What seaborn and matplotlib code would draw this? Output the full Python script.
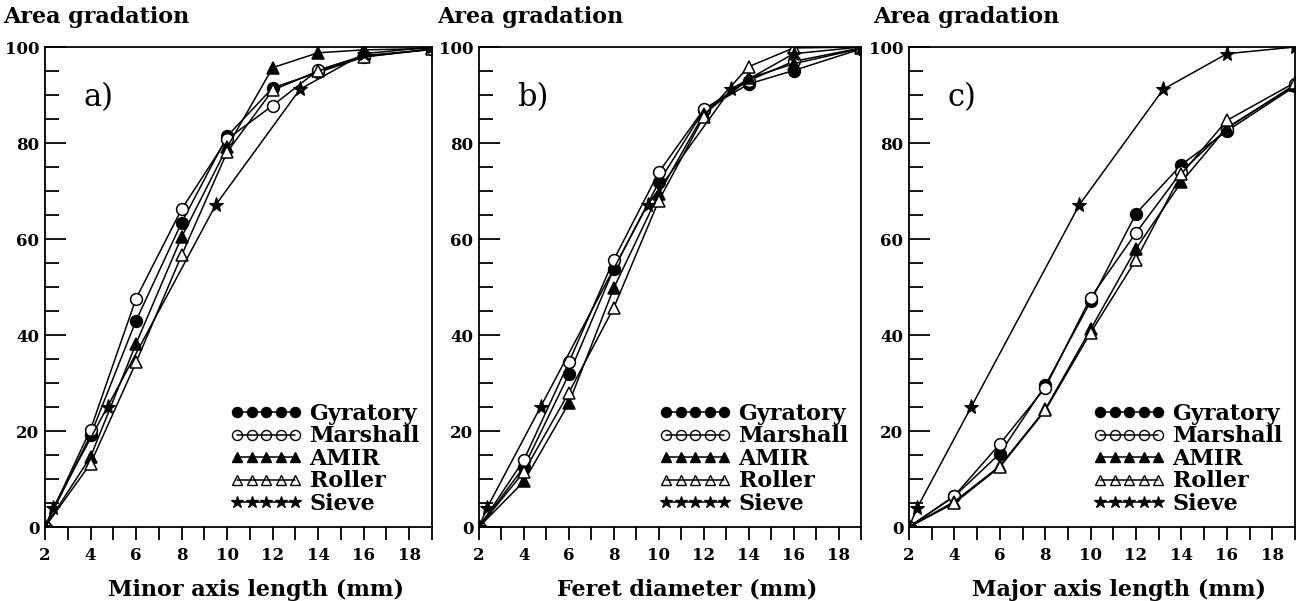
import numpy as np
import pandas as pd
import matplotlib
matplotlib.use('Agg')
import matplotlib.pyplot as plt
import seaborn as sns
from matplotlib.lines import Line2D
from matplotlib.ticker import MultipleLocator

sns.set_style('ticks')
plt.rcParams['font.family'] = ['DejaVu Serif']
plt.rcParams['text.color'] = 'k'
plt.rcParams['axes.labelcolor'] = 'k'
plt.rcParams['xtick.color'] = 'k'
plt.rcParams['ytick.color'] = 'k'

# sizes (mm) where the compaction curves have markers
size_x = [2, 4, 6, 8, 10, 12, 14, 16, 19]

minor_gyratory = [0, 19.1, 43.0, 63.4, 81.4, 91.5, 94.7, 97.9, 99.6]
minor_marshall = [0, 20.3, 47.6, 66.2, 80.8, 87.8, 95.2, 98.2, 99.5]
minor_amir = [0, 14.6, 38.2, 60.4, 79.1, 95.7, 98.8, 99.4, 99.7]
minor_roller = [0, 13.2, 34.3, 56.6, 78.1, 91.0, 95.0, 98.0, 99.5]

feret_gyratory = [0, 12.5, 31.8, 53.8, 71.8, 86.8, 92.3, 95.1, 99.6]
feret_marshall = [0, 14.0, 34.3, 55.7, 73.9, 87.0, 93.0, 97.0, 99.8]
feret_amir = [0, 9.5, 25.8, 49.8, 69.4, 86.0, 93.5, 96.5, 99.7]
feret_roller = [0, 11.5, 28.0, 45.7, 68.0, 85.5, 95.9, 99.8, 100]

major_gyratory = [0, 6.4, 15.3, 29.5, 47.0, 65.3, 75.5, 82.5, 91.8]
major_marshall = [0, 6.5, 17.3, 29.0, 47.8, 61.3, 74.0, 83.0, 92.2]
major_amir = [0, 5.3, 12.7, 24.5, 41.2, 58.0, 71.9, 83.2, 92.0]
major_roller = [0, 5.0, 12.5, 24.3, 40.5, 55.7, 73.6, 84.7, 92.6]

# sieve gradation, same in every panel
sieve_x = [2, 2.36, 4.75, 9.5, 13.2, 16, 19]
sieve_y = [0, 4.0, 25.1, 67.1, 91.2, 98.6, 100]

labels = ['Gyratory', 'Marshall', 'AMIR', 'Roller', 'Sieve']
x_titles = ['Minor axis length (mm)', 'Feret diameter (mm)', 'Major axis length (mm)']
panel_tags = ['a)', 'b)', 'c)']
panels = [
    [minor_gyratory, minor_marshall, minor_amir, minor_roller],
    [feret_gyratory, feret_marshall, feret_amir, feret_roller],
    [major_gyratory, major_marshall, major_amir, major_roller],
]

styles = {
    'Gyratory': dict(marker='o', mfc='k', ms=8.5),
    'Marshall': dict(marker='o', mfc='white', ms=8.5),
    'AMIR': dict(marker='^', mfc='k', ms=8.5),
    'Roller': dict(marker='^', mfc='white', ms=8.5),
    'Sieve': dict(marker='*', mfc='k', ms=11),
}

fig = plt.figure(figsize=(13.08, 6.01), dpi=100)
lefts = [45, 479, 909]
widths = [387, 382, 386]
ylab_x = [-0.108, -0.11, -0.094]

for i in range(3):
    ax = fig.add_axes([lefts[i] / 1308, 74 / 601, widths[i] / 1308, 480 / 601])
    for name, vals in zip(labels[:4], panels[i]):
        st = styles[name]
        sns.lineplot(x=size_x, y=vals, ax=ax, color='k', lw=1.1, marker=st['marker'],
                     mfc=st['mfc'], mec='k', mew=1.1, ms=st['ms'],
                     sort=False, estimator=None, legend=False)
    st = styles['Sieve']
    sns.lineplot(x=sieve_x, y=sieve_y, ax=ax, color='k', lw=1.1, marker=st['marker'],
                 mfc=st['mfc'], mec='k', mew=0.8, ms=st['ms'],
                 sort=False, estimator=None, legend=False)

    ax.set_xlim(2, 19)
    ax.set_ylim(0, 100)
    for s in ax.spines.values():
        s.set_linewidth(1.3)
        s.set_color('k')
    ax.xaxis.set_major_locator(MultipleLocator(2))
    ax.xaxis.set_minor_locator(MultipleLocator(1))
    ax.yaxis.set_major_locator(MultipleLocator(20))
    ax.yaxis.set_minor_locator(MultipleLocator(5))
    ax.tick_params(axis='y', which='major', direction='in', length=15, width=1.3, pad=4,
                   labelsize=12)
    ax.tick_params(axis='y', which='minor', direction='in', length=10, width=1.3)
    ax.tick_params(axis='x', which='both', direction='out', length=9.5, width=1.3, pad=5,
                   labelsize=12)
    for lab in ax.get_xticklabels() + ax.get_yticklabels():
        lab.set_fontweight('bold')

    ax.set_xlabel(x_titles[i], fontsize=16, fontweight='bold')
    ax.xaxis.set_label_coords(0.544, -0.108)
    ax.set_ylabel('Area gradation', fontsize=16, fontweight='bold', rotation=0,
                  ha='left', va='center')
    ax.yaxis.set_label_coords(ylab_x[i], 1.0625)

    ax.text(0.1, 0.895, panel_tags[i], transform=ax.transAxes, fontsize=22,
            ha='left', va='center')

    handles = [Line2D([], [], color='k', lw=1.1, marker=styles[n]['marker'],
                      mfc=('none' if styles[n]['mfc'] == 'white' else 'k'), mec='k',
                      ms=styles[n]['ms'] * 0.85)
               for n in labels]
    ax.legend(handles, labels, loc='lower right', bbox_to_anchor=(1.0, 0.0),
              numpoints=5, frameon=False, handlelength=3.2, handletextpad=0.35,
              labelspacing=0.02, borderaxespad=0.15,
              prop=dict(family='DejaVu Serif', weight='bold', size=16))

fig.savefig('out.png', dpi=100)
